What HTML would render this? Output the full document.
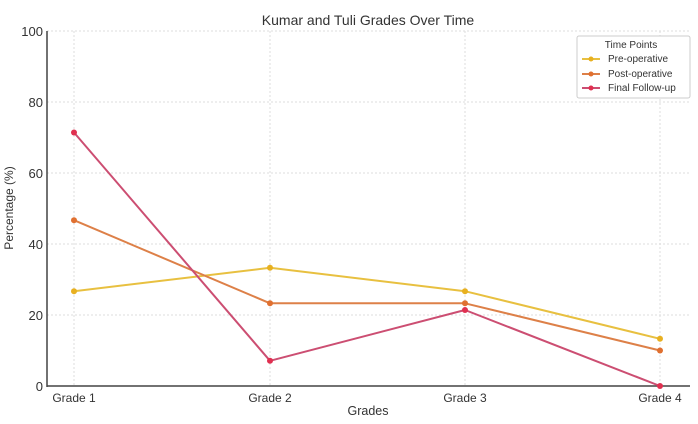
<!DOCTYPE html>
<html><head><style>body{margin:0;background:#fff}</style></head><body>
<svg width="698" height="419" xmlns="http://www.w3.org/2000/svg" font-family="Liberation Sans, DejaVu Sans, sans-serif">
<rect width="698" height="419" fill="#fff"/>
<g stroke="#ddd" stroke-dasharray="2,2" stroke-width="1">
<line x1="47" x2="690" y1="31" y2="31"/><line x1="47" x2="690" y1="102" y2="102"/><line x1="47" x2="690" y1="173" y2="173"/><line x1="47" x2="690" y1="244" y2="244"/><line x1="47" x2="690" y1="315" y2="315"/>
<line x1="74" x2="74" y1="31" y2="386"/><line x1="270" x2="270" y1="31" y2="386"/><line x1="465" x2="465" y1="31" y2="386"/><line x1="660" x2="660" y1="31" y2="386"/>
</g>
<line x1="47" y1="31" x2="47" y2="387" stroke="#444" stroke-width="1.5"/>
<line x1="47" y1="386" x2="690" y2="386" stroke="#444" stroke-width="1.5"/>
<g font-size="13" fill="#333" text-anchor="end">
<text x="43" y="36">100</text><text x="43" y="107">80</text><text x="43" y="178">60</text><text x="43" y="249">40</text><text x="43" y="320">20</text><text x="43" y="391">0</text>
</g>
<g font-size="12" fill="#333" text-anchor="middle">
<text x="74" y="402">Grade 1</text><text x="270" y="402">Grade 2</text><text x="465" y="402">Grade 3</text><text x="660" y="402">Grade 4</text>
<text x="368" y="415" font-size="12.5">Grades</text>
</g>
<text x="368" y="25" font-size="14" fill="#333" text-anchor="middle">Kumar and Tuli Grades Over Time</text>
<text transform="translate(13,208) rotate(-90)" font-size="12" fill="#333" text-anchor="middle">Percentage (%)</text>
<g fill="none" stroke-width="2" stroke-linejoin="round">
<polyline stroke="#e8c040" points="74,291.2 270,267.8 465,291.2 660,338.8"/>
<polyline stroke="#dd8048" points="74,220.2 270,303.3 465,303.3 660,350.5"/>
<polyline stroke="#cc4e72" points="74,132.5 270,360.8 465,310 660,386"/>
</g>
<g fill="#e8b020"><circle cx="74" cy="291.2" r="3"/><circle cx="270" cy="267.8" r="3"/><circle cx="465" cy="291.2" r="3"/><circle cx="660" cy="338.8" r="3"/></g>
<g fill="#e07030"><circle cx="74" cy="220.2" r="3"/><circle cx="270" cy="303.3" r="3"/><circle cx="465" cy="303.3" r="3"/><circle cx="660" cy="350.5" r="3"/></g>
<g fill="#e03050"><circle cx="74" cy="132.5" r="3"/><circle cx="270" cy="360.8" r="3"/><circle cx="465" cy="310" r="3"/><circle cx="660" cy="386" r="3"/></g>
<rect x="577" y="36" width="113" height="62" fill="#fff" stroke="#ccc" rx="2"/>
<g font-size="10" fill="#333">
<text x="631" y="48" text-anchor="middle">Time Points</text>
<text x="608" y="62">Pre-operative</text><text x="608" y="77">Post-operative</text><text x="608" y="91">Final Follow-up</text>
</g>
<g stroke-width="2"><line x1="582" x2="600" y1="59" y2="59" stroke="#e8c040"/><line x1="582" x2="600" y1="74" y2="74" stroke="#dd8048"/><line x1="582" x2="600" y1="88" y2="88" stroke="#cc4e72"/></g>
<circle cx="591" cy="59" r="2.5" fill="#e8b020"/><circle cx="591" cy="74" r="2.5" fill="#e07030"/><circle cx="591" cy="88" r="2.5" fill="#e03050"/>
</svg>
</body></html>
